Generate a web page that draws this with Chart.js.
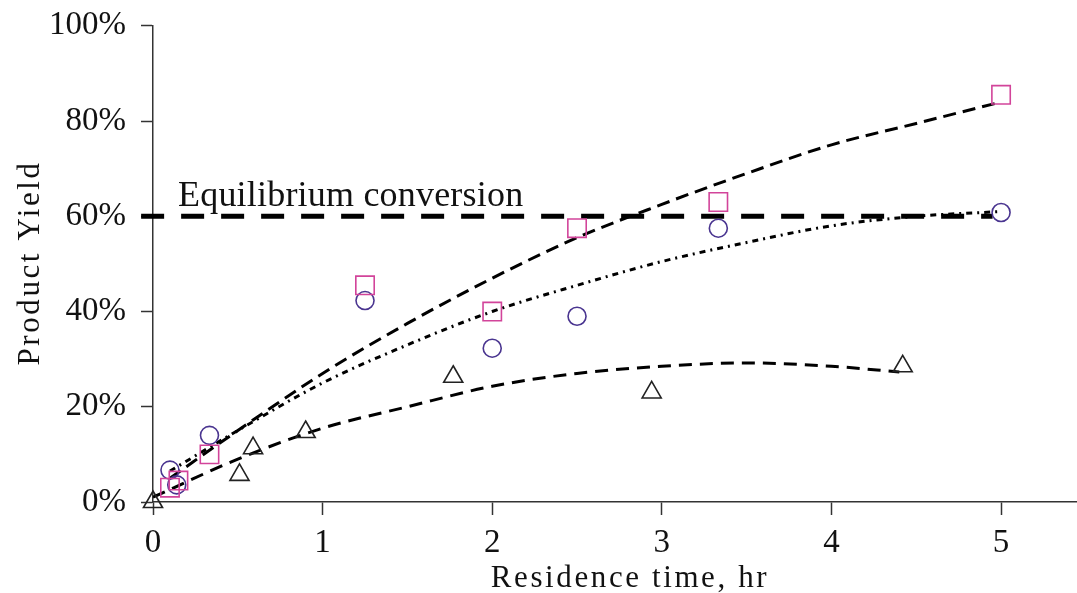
<!DOCTYPE html>
<html>
<head>
<meta charset="utf-8">
<script src="https://cdn.jsdelivr.net/npm/chart.js@4.4.1/dist/chart.umd.min.js"></script>
<style>
  html, body { margin: 0; padding: 0; background: #fff; overflow: hidden; }
  #wrap { width: 1077px; height: 593px; overflow: hidden; position: relative; }
  #c { position: absolute; left: 0; top: -9px; }
</style>
</head>
<body>
<div id="wrap"><canvas id="c" width="1092" height="602"></canvas></div>
<script>
// ---- data ----
const xTicks = [0, 1, 2, 3, 4, 5];
const yTicks = [0, 20, 40, 60, 80, 100];

const squareX = [0.1, 0.15, 0.333, 1.25, 2, 2.5, 3.333, 5];
const squareY = [3, 4.5, 10, 45.5, 40, 57.5, 63, 85.5];

const circleX = [0.1, 0.14, 0.333, 1.25, 2, 2.5, 3.333, 5];
const circleY = [6.7, 3.6, 14, 42.3, 32.3, 39, 57.5, 60.8];

const triangleX = [0, 0.51, 0.59, 0.9, 1.77, 2.94, 4.42];
const triangleY = [0, 5.7, 11.3, 14.7, 26.3, 23, 28.5];

const upperX = [0.1, 0.5, 1, 1.5, 2, 2.5, 3, 3.5, 4, 4.5, 5];
const upperY = [5, 15, 27, 37.5, 47, 55.5, 62.5, 69, 75, 79.5, 84];

const middleX = [0.1, 0.5, 1, 1.5, 2, 2.5, 3, 3.5, 4, 4.5, 5];
const middleY = [6.5, 15, 25, 33, 40, 45.5, 50.5, 54.5, 58, 60, 61];

const lowerX = [0, 0.5, 1, 1.5, 2, 2.5, 3, 3.5, 4, 4.4];
const lowerY = [1, 9, 15.5, 20, 24.3, 27, 28.5, 29.2, 28.5, 27.3];

const equilibriumX = [-0.07, 4.95];
const equilibriumY = [60, 60];

const equilibriumLabel = 'Equilibrium conversion';
const xTitle = 'Residence time, hr';
const yTitle = 'Product Yield';

const pts = (xs, ys) => xs.map((x, i) => ({ x, y: ys[i] }));

const SERIF = '"Liberation Serif", "DejaVu Serif", serif';
const CANVAS_SHIFT_Y = 9; // canvas is placed 9px above the page top

const textPlugin = {
  id: 'texts',
  afterDraw(chart) {
    const ctx = chart.ctx;
    const xs = chart.scales.x, ys = chart.scales.y;
    ctx.save();
    ctx.fillStyle = '#111';
    // annotation
    ctx.font = '36px ' + SERIF;
    ctx.textAlign = 'left';
    ctx.textBaseline = 'alphabetic';
    try { ctx.letterSpacing = '0.2px'; } catch (e) {}
    ctx.fillText(equilibriumLabel, xs.getPixelForValue(0) + 25, ys.getPixelForValue(60) - 10);
    // x title (page coords -> canvas coords)
    ctx.font = '31px ' + SERIF;
    try { ctx.letterSpacing = '2.6px'; } catch (e) {}
    ctx.textAlign = 'center';
    ctx.fillText(xTitle, 630, 587 + CANVAS_SHIFT_Y);
    // y title
    ctx.translate(39, 263 + CANVAS_SHIFT_Y);
    ctx.rotate(-Math.PI / 2);
    ctx.fillText(yTitle, 0, 0);
    ctx.restore();
  }
};

const lineBase = {
  showLine: true,
  pointRadius: 0,
  borderColor: '#000',
  borderWidth: 3,
  fill: false,
  tension: 0.4,
  cubicInterpolationMode: 'monotone',
  order: 2
};

new Chart(document.getElementById('c'), {
  type: 'scatter',
  data: {
    datasets: [
      Object.assign({}, lineBase, {
        label: 'Equilibrium',
        data: pts(equilibriumX, equilibriumY),
        borderWidth: 5,
        borderDash: [23, 17],
        tension: 0,
        clip: false
      }),
      Object.assign({}, lineBase, { label: 'fit A', data: pts(upperX, upperY), borderDash: [13, 7] }),
      Object.assign({}, lineBase, { label: 'fit B', data: pts(middleX, middleY), borderDash: [6, 5, 2, 5] }),
      Object.assign({}, lineBase, { label: 'fit C', data: pts(lowerX, lowerY), borderDash: [13, 8] }),
      {
        label: 'squares', data: pts(squareX, squareY), pointStyle: 'rect', pointRadius: 13,
        borderColor: '#d2449a', backgroundColor: 'rgba(0,0,0,0)', borderWidth: 1.6, order: 1
      },
      {
        label: 'circles', data: pts(circleX, circleY), pointStyle: 'circle', pointRadius: 9,
        borderColor: '#4a3590', backgroundColor: 'rgba(0,0,0,0)', borderWidth: 1.6, order: 1
      },
      {
        label: 'triangles', data: pts(triangleX, triangleY), pointStyle: 'triangle', pointRadius: 11,
        borderColor: '#222', backgroundColor: 'rgba(0,0,0,0)', borderWidth: 1.6, order: 1, clip: false
      }
    ]
  },
  options: {
    responsive: false,
    animation: false,
    devicePixelRatio: 1,
    layout: { padding: { top: 0, right: 0, bottom: 0, left: 0 } },
    plugins: { legend: { display: false }, tooltip: { enabled: false } },
    scales: {
      x: {
        type: 'linear', min: 0, max: 5.45,
        afterBuildTicks: s => { s.ticks = xTicks.map(v => ({ value: v })); },
        afterFit: s => { s.height = 91; },
        grid: { drawOnChartArea: false, drawTicks: true, tickLength: 13, tickColor: '#333', tickWidth: 1.5 },
        border: { display: true, color: '#333', width: 1.5 },
        ticks: { font: { family: SERIF, size: 33 }, color: '#111', padding: 9, maxRotation: 0, autoSkip: false,
                 callback: v => String(v) }
      },
      y: {
        type: 'linear', min: 0, max: 100,
        afterBuildTicks: s => { s.ticks = yTicks.map(v => ({ value: v })); },
        afterFit: s => { s.width = 153; },
        grid: { drawOnChartArea: false, drawTicks: true, tickLength: 12, tickColor: '#333', tickWidth: 1.5 },
        border: { display: true, color: '#333', width: 1.5 },
        ticks: { font: { family: SERIF, size: 33 }, color: '#111', padding: 15, autoSkip: false,
                 callback: v => v + '%' }
      }
    }
  },
  plugins: [textPlugin]
});
</script>
</body>
</html>
